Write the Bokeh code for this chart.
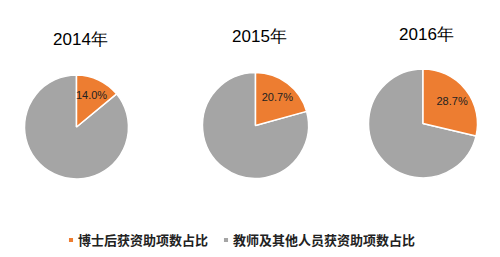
import math
from bokeh.plotting import figure
from bokeh.models import ColumnDataSource, Range1d, Legend, LegendItem
from bokeh.core.properties import value
from bokeh.embed import file_html
from bokeh.resources import INLINE

# data
years = ["2014年", "2015年", "2016年"]
postdoc_share = [14.0, 20.7, 28.7]
series_names = ["博士后获资助项数占比", "教师及其他人员获资助项数占比"]
colors = ["#ED7D31", "#A5A5A5"]

# layout (pixel positions, top-left origin)
W, H = 500, 257
cx = [76, 255, 422.5]
cy = [126.5, 125, 123]
rad = [52, 53, 54.5]
title_y = [39, 36, 34]
title_x = [80, 259, 426]

p = figure(width=W, height=H, output_backend="svg", toolbar_location=None,
           x_range=Range1d(0, W), y_range=Range1d(0, H), min_border=0)
p.axis.visible = False
p.grid.visible = False
p.outline_line_color = None

ys = [H - v for v in cy]
top = math.pi / 2
org_start = [top - 2 * math.pi * s / 100 for s in postdoc_share]
org_end = [top] * 3
gry_start = [top] * 3
gry_end = [top - 2 * math.pi * s / 100 + 2 * math.pi for s in postdoc_share]

src_o = ColumnDataSource(dict(x=cx, y=ys, r=rad, s=org_start, e=org_end))
src_g = ColumnDataSource(dict(x=cx, y=ys, r=rad, s=gry_start, e=gry_end))

rg = p.wedge(x="x", y="y", radius="r", start_angle="s", end_angle="e", source=src_g,
             fill_color=colors[1], line_color="white", line_width=1.5)
ro = p.wedge(x="x", y="y", radius="r", start_angle="s", end_angle="e", source=src_o,
             fill_color=colors[0], line_color="white", line_width=1.5)

# percentage labels
lx, ly, lt = [], [], []
for i, s in enumerate(postdoc_share):
    mid = top - math.pi * s / 100
    d = 0.68 * rad[i]
    lx.append(cx[i] + d * math.cos(mid))
    ly.append(ys[i] + d * math.sin(mid))
    lt.append(f"{s:.1f}%")
p.text(x=lx, y=ly, text=lt, text_align="center", text_baseline="middle",
       text_font=value("Liberation Sans"), text_font_size="11px", text_color="#222222")

# titles
p.text(x=title_x, y=[H - v for v in title_y], text=years, text_align="center",
       text_baseline="middle", text_font=value("Liberation Sans"),
       text_font_size="17px", text_color="#000000")

legend = Legend(items=[LegendItem(label=series_names[0], renderers=[ro]),
                       LegendItem(label=series_names[1], renderers=[rg])],
                orientation="horizontal", location=(67, 8),
                glyph_width=7, glyph_height=7, label_standoff=4, spacing=14,
                padding=0, margin=0,
                label_text_font="Noto Sans CJK SC", label_text_font_style="bold",
                label_text_font_size="13px", label_text_color="#222222",
                border_line_alpha=0, background_fill_alpha=0)
p.add_layout(legend, "center")

open("out.html", "w").write(file_html(p, INLINE))
